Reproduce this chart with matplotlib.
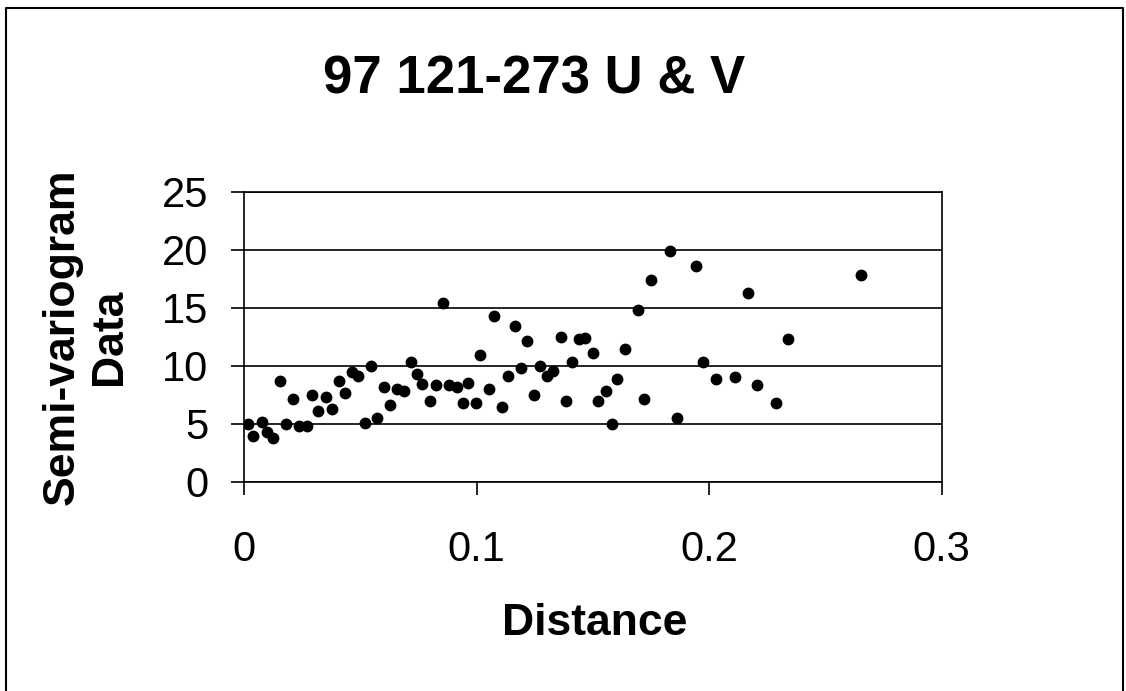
import numpy as np
import matplotlib
matplotlib.use('Agg')
import matplotlib.pyplot as plt
from matplotlib.lines import Line2D

plt.rcParams['font.family'] = ['Liberation Sans', 'DejaVu Sans']

# semi-variogram points
distance = [0.0019, 0.0040, 0.0076, 0.0100, 0.0123, 0.0155, 0.0181, 0.0212, 0.0237, 0.0271,
            0.0294, 0.0318, 0.0351, 0.0378, 0.0409, 0.0433, 0.0465, 0.0489, 0.0522, 0.0546,
            0.0571, 0.0604, 0.0628, 0.0658, 0.0687, 0.0717, 0.0743, 0.0767, 0.0800, 0.0824,
            0.0855, 0.0880, 0.0915, 0.0941, 0.0965, 0.0997, 0.1015, 0.1054, 0.1075, 0.1110,
            0.1134, 0.1166, 0.1190, 0.1216, 0.1249, 0.1272, 0.1305, 0.1330, 0.1361, 0.1386,
            0.1411, 0.1439, 0.1468, 0.1500, 0.1524, 0.1557, 0.1583, 0.1606, 0.1637, 0.1695,
            0.1719, 0.1749, 0.1831, 0.1860, 0.1945, 0.1973, 0.2029, 0.2112, 0.2169, 0.2205,
            0.2287, 0.2340, 0.2651]
semivar = [4.95, 3.97, 5.12, 4.26, 3.77, 8.66, 4.95, 7.13, 4.80, 4.80,
           7.45, 6.09, 7.30, 6.29, 8.66, 7.62, 9.46, 9.11, 5.09, 9.97,
           5.46, 8.14, 6.61, 7.99, 7.82, 10.32, 9.28, 8.45, 6.96, 8.31,
           15.43, 8.31, 8.14, 6.78, 8.48, 6.80, 10.93, 7.96, 14.26, 6.47,
           9.14, 13.42, 9.83, 12.13, 7.47, 10.00, 9.14, 9.51, 12.45, 6.96,
           10.35, 12.27, 12.41, 11.12, 6.96, 7.82, 4.97, 8.83, 11.47, 14.78,
           7.13, 17.39, 19.91, 5.46, 18.59, 10.35, 8.83, 9.00, 16.29, 8.36,
           6.81, 12.27, 17.79]

xticks = [0, 0.1, 0.2, 0.3]
xticklabels = ['0', '0.1', '0.2', '0.3']
yticks = [0, 5, 10, 15, 20, 25]

fig = plt.figure(figsize=(11.26, 6.91), dpi=100)
ax = fig.add_axes([0.2167, 0.3029, 0.8363 - 0.2167, 0.7226 - 0.3029])

ax.plot(distance, semivar, 'o', color='black', markersize=7.5, zorder=3)

ax.set_xlim(0, 0.3)
ax.set_ylim(0, 25)
ax.set_xticks(xticks)
ax.set_xticklabels(xticklabels)
ax.set_yticks(yticks)
ax.yaxis.grid(True, color='black', linewidth=1.2)
ax.set_axisbelow(True)
for s in ax.spines.values():
    s.set_linewidth(1.2)
ax.tick_params(axis='both', direction='out', length=9.5, width=1.2, labelsize=30)
ax.tick_params(axis='x', pad=25)
ax.tick_params(axis='y', pad=16)

fig.text(0.474, 0.885, '97 121-273 U & V', fontsize=38, fontweight='bold',
         ha='center', va='center')
fig.text(0.528, 0.098, 'Distance', fontsize=32, fontweight='bold',
         ha='center', va='center')
fig.text(0.0764, 0.512, 'Semi-variogram\nData', fontsize=32, fontweight='bold',
         ha='center', va='center', rotation=90, linespacing=1.2)

# chart border (open at the bottom)
fig.add_artist(Line2D([0.0055, 0.0055, 0.9975, 0.9975], [0.0, 0.9885, 0.9885, 0.0],
                      transform=fig.transFigure, color='black', linewidth=1.5))

fig.savefig('out.png', dpi=100)
